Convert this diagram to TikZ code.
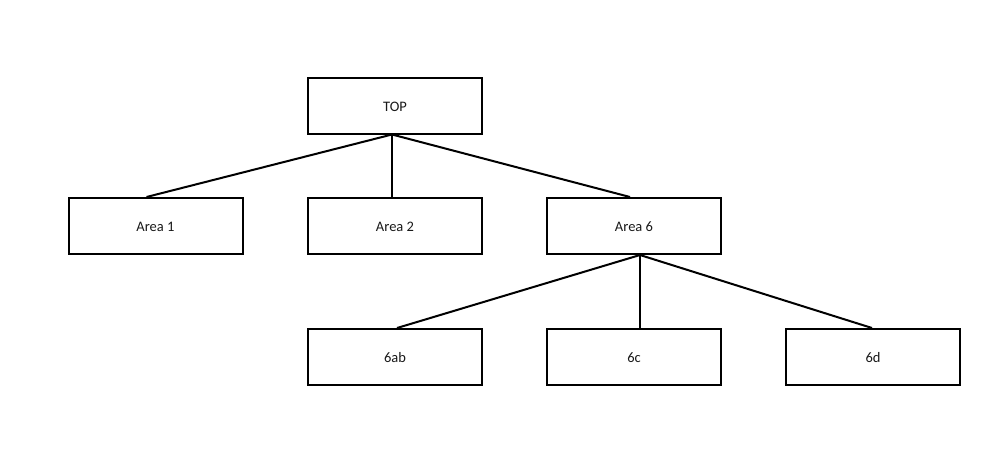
\documentclass[tikz,border=0pt]{standalone}
\usepackage{fontspec}
\setmainfont{Carlito}
\usetikzlibrary{calc}
\begin{document}
\begin{tikzpicture}[x=1pt,y=-1pt,
  box/.style={draw=black,line width=2pt,minimum width=174pt,minimum height=56pt,
    inner sep=0pt,text height=11.2pt,text depth=0pt,
    font=\fontsize{14.5}{16}\selectfont,text=black!90},
  link/.style={draw=black,line width=2pt}]
  \useasboundingbox[fill=white] (0,0) rectangle (1001,469);
  % tree of boxes
  \node[box] (top) at (395,105.5) {TOP};
  \node[box] (a1) at (155.5,226) {Area 1};
  \node[box] (a2) at (395,226) {Area 2};
  \node[box] (a6) at (634,226) {Area 6};
  \node[box] (b1) at (395,357) {6ab};
  \node[box] (b2) at (634,357) {6c};
  \node[box] (b3) at (873,357) {6d};
  % connectors from each parent to its children
  \coordinate (tp) at ($(top.south)+(-3,0)$);
  \draw[link] (tp) -- ($(a1.north)+(-9,0)$);
  \draw[link] (tp) -- ($(a2.north)+(-3,0)$);
  \draw[link] (tp) -- ($(a6.north)+(-4,0)$);
  \coordinate (ap) at ($(a6.south)+(6,0)$);
  \draw[link] (ap) -- ($(b1.north)+(2,0)$);
  \draw[link] (ap) -- ($(b2.north)+(6,0)$);
  \draw[link] (ap) -- ($(b3.north)+(-1,0)$);
\end{tikzpicture}
\end{document}
